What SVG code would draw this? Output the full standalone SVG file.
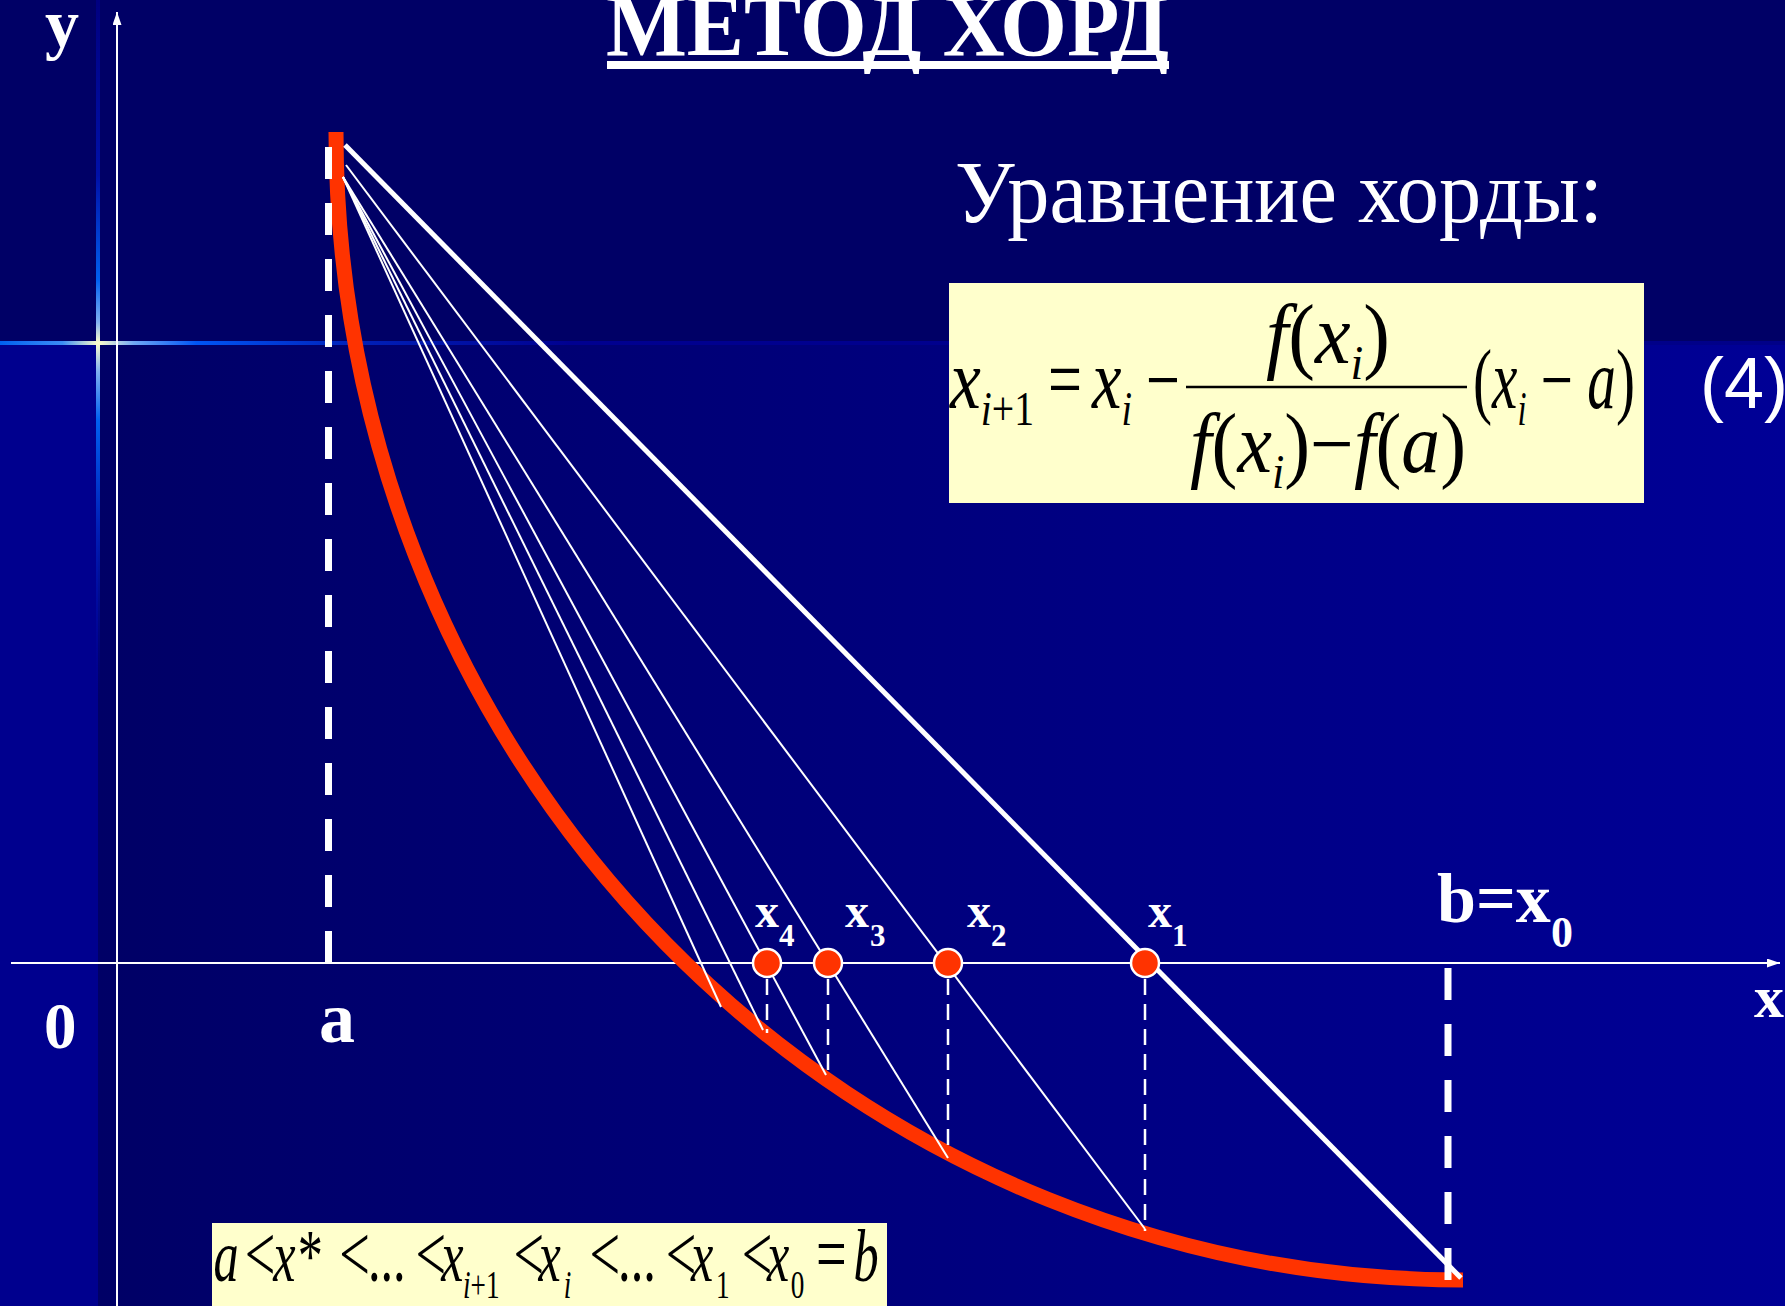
<svg xmlns="http://www.w3.org/2000/svg" width="1785" height="1306" viewBox="0 0 1785 1306">
<style>
.lbl{font-family:"Liberation Serif","Times New Roman",serif;font-weight:bold;fill:#fff}
.mth{font-family:"Liberation Serif","Times New Roman",serif;fill:#000}
.it{font-style:italic}
.rel{font-size:80px}
.chord{stroke:#fff;stroke-width:2;fill:none}
.chord0{stroke:#fff;stroke-width:5;fill:none}
.vdash{stroke:#fff;stroke-width:7;stroke-dasharray:32 24;fill:none}
.tdash{stroke:#fff;stroke-width:2.5;stroke-dasharray:16 9;fill:none}
.dot{fill:#FF3300;stroke:#fff;stroke-width:2.5}
.axis{stroke:#fff;stroke-width:2;fill:none}
</style>
<defs>
<linearGradient id="lowerBg" gradientUnits="userSpaceOnUse" x1="98" y1="0" x2="1785" y2="0">
<stop offset="0" stop-color="#000066"/>
<stop offset="1" stop-color="#000096"/>
</linearGradient>
<linearGradient id="hGlow" gradientUnits="userSpaceOnUse" x1="0" y1="0" x2="1785" y2="0">
<stop offset="0" stop-color="#0060F0"/>
<stop offset="0.035" stop-color="#3C8CF5"/>
<stop offset="0.055" stop-color="#FFFFCC"/>
<stop offset="0.075" stop-color="#70A8F5"/>
<stop offset="0.11" stop-color="#0055F5"/>
<stop offset="0.2" stop-color="#0020B8"/>
<stop offset="0.32" stop-color="#000090"/>
<stop offset="1" stop-color="#000088"/>
</linearGradient>
<linearGradient id="vGlow" gradientUnits="userSpaceOnUse" x1="0" y1="0" x2="0" y2="700">
<stop offset="0" stop-color="#000080"/>
<stop offset="0.25" stop-color="#0010A8"/>
<stop offset="0.4" stop-color="#0060F0"/>
<stop offset="0.46" stop-color="#80B0F0"/>
<stop offset="0.49" stop-color="#FFFFCC"/>
<stop offset="0.53" stop-color="#80B0F0"/>
<stop offset="0.6" stop-color="#0060F0"/>
<stop offset="0.75" stop-color="#0020B8"/>
<stop offset="1" stop-color="#000099" stop-opacity="0"/>
</linearGradient>
<marker id="arrow" markerUnits="userSpaceOnUse" viewBox="0 0 13 9" markerWidth="13" markerHeight="9" refX="13" refY="4.5" orient="auto">
<path d="M0,0 L13,4.5 L0,9 z" fill="#fff"/>
</marker>
</defs>

<g id="background">
<rect x="0" y="0" width="1785" height="1306" fill="#000066"/>
<rect x="98" y="341" width="1687" height="965" fill="url(#lowerBg)"/>
<rect x="0" y="343" width="98" height="963" fill="#00008E"/>
<rect x="0" y="341" width="1785" height="4" fill="url(#hGlow)"/>
<rect x="96" y="0" width="4" height="700" fill="url(#vGlow)"/>
</g>

<g id="title">
<text class="lbl" x="606" y="55" font-size="88" textLength="563" lengthAdjust="spacingAndGlyphs">МЕТОД ХОРД</text>
<rect x="607" y="61" width="562" height="8" fill="#fff"/>
</g>

<g id="chord-equation-caption">
<text x="955" y="222" font-family="Liberation Serif, Times New Roman, serif" font-size="88" fill="#fff" textLength="648" lengthAdjust="spacingAndGlyphs">Уравнение хорды:</text>
</g>

<g id="formula">
<rect x="949" y="283" width="695" height="220" fill="#FFFFCC"/>
<text class="mth" x="950" y="408" font-size="84" textLength="84" lengthAdjust="spacingAndGlyphs"><tspan class="it">x</tspan><tspan class="it" font-size="48" dy="17">i</tspan><tspan font-size="48">+1</tspan></text>
<text class="mth" x="1048" y="408" font-size="84" textLength="34" lengthAdjust="spacingAndGlyphs">=</text>
<text class="mth" x="1092" y="408" font-size="84" textLength="40" lengthAdjust="spacingAndGlyphs"><tspan class="it">x</tspan><tspan class="it" font-size="48" dy="17">i</tspan></text>
<text class="mth" x="1146" y="408" font-size="84" textLength="34" lengthAdjust="spacingAndGlyphs">−</text>
<line x1="1186" y1="387" x2="1467" y2="387" stroke="#000" stroke-width="2.5"/>
<text class="mth" x="1266" y="363" font-size="84" textLength="124" lengthAdjust="spacingAndGlyphs"><tspan class="it">f</tspan>(<tspan class="it">x</tspan><tspan class="it" font-size="48" dy="16">i</tspan><tspan dy="-16">)</tspan></text>
<text class="mth" x="1190" y="472" font-size="84" textLength="276" lengthAdjust="spacingAndGlyphs"><tspan class="it">f</tspan>(<tspan class="it">x</tspan><tspan class="it" font-size="48" dy="16">i</tspan><tspan dy="-16">)−</tspan><tspan class="it">f</tspan>(<tspan class="it">a</tspan>)</text>
<text class="mth" x="1473" y="408" font-size="84" textLength="162" lengthAdjust="spacingAndGlyphs">(<tspan class="it">x</tspan><tspan class="it" font-size="48" dy="17">i</tspan><tspan dy="-17"> − </tspan><tspan class="it">a</tspan>)</text>
</g>

<g id="equation-number">
<text x="1700" y="408" font-family="Liberation Sans, Arial, sans-serif" font-size="72" fill="#fff">(4)</text>
</g>

<g id="axes">
<line class="axis" x1="117" y1="1306" x2="117" y2="12" marker-end="url(#arrow)"/>
<line class="axis" x1="11" y1="963" x2="1780" y2="963" marker-end="url(#arrow)"/>
<text class="lbl" x="45" y="47" font-size="68">y</text>
<text class="lbl" x="1754" y="1017" font-size="60">x</text>
<text class="lbl" x="44" y="1048" font-size="65">0</text>
</g>

<g id="curve">
<path d="M336,132 A1127,1148 0 0 0 1463,1280" fill="none" stroke="#FF3300" stroke-width="15"/>
</g>

<g id="connectors">
<line class="chord0" x1="345" y1="145" x2="1461" y2="1278"/>
<line class="chord" x1="346" y1="165" x2="1145" y2="1229"/>
<line class="chord" x1="343" y1="177" x2="948" y2="1158"/>
<line class="chord" x1="343" y1="177" x2="826" y2="1075"/>
<line class="chord" x1="343" y1="177" x2="763" y2="1030"/>
<line class="chord" x1="343" y1="177" x2="721" y2="1007"/>
<line class="vdash" x1="328.5" y1="147" x2="328.5" y2="963"/>
<line class="vdash" x1="1448" y1="968" x2="1448" y2="1280"/>
<line class="tdash" x1="767" y1="979" x2="767" y2="1033"/>
<line class="tdash" x1="828" y1="979" x2="828" y2="1076"/>
<line class="tdash" x1="948" y1="979" x2="948" y2="1153"/>
<line class="tdash" x1="1145" y1="979" x2="1145" y2="1231"/>
</g>

<g id="point-a">
<text class="lbl" x="319" y="1042" font-size="72">a</text>
</g>
<g id="point-b">
<text class="lbl" x="1437" y="922" font-size="70">b=x</text>
<text class="lbl" x="1551" y="947" font-size="44">0</text>
</g>
<g id="point-x1">
<circle class="dot" cx="1145" cy="963" r="14"/>
<text class="lbl" x="1148" y="927" font-size="48">x</text>
<text class="lbl" x="1172" y="946" font-size="31">1</text>
</g>
<g id="point-x2">
<circle class="dot" cx="948" cy="963" r="14"/>
<text class="lbl" x="967" y="927" font-size="48">x</text>
<text class="lbl" x="991" y="946" font-size="31">2</text>
</g>
<g id="point-x3">
<circle class="dot" cx="828" cy="963" r="14"/>
<text class="lbl" x="845" y="927" font-size="48">x</text>
<text class="lbl" x="870" y="946" font-size="31">3</text>
</g>
<g id="point-x4">
<circle class="dot" cx="767" cy="963" r="14"/>
<text class="lbl" x="755" y="927" font-size="48">x</text>
<text class="lbl" x="779" y="946" font-size="31">4</text>
</g>

<g id="inequality">
<rect x="212" y="1223" width="675" height="83" fill="#FFFFCC"/>
<g transform="scale(0.68,1)" font-family="Liberation Serif, Times New Roman, serif" font-size="74" fill="#000">
<text y="1281"><tspan x="314" font-style="italic">a</tspan><tspan class="rel" x="360">&lt;</tspan><tspan x="402" font-style="italic">x</tspan><tspan x="438">*</tspan><tspan class="rel" x="499">&lt;</tspan><tspan x="541">...</tspan><tspan class="rel" x="611">&lt;</tspan><tspan x="649" font-style="italic">x</tspan><tspan x="681" y="1298" font-size="40" font-style="italic">i</tspan><tspan y="1298" font-size="40">+1</tspan><tspan class="rel" x="755" y="1281">&lt;</tspan><tspan x="792" font-style="italic">x</tspan><tspan x="829" y="1298" font-size="40" font-style="italic">i</tspan><tspan class="rel" x="867" y="1281">&lt;</tspan><tspan x="909">...</tspan><tspan class="rel" x="979">&lt;</tspan><tspan x="1016" font-style="italic">x</tspan><tspan x="1053" y="1298" font-size="40">1</tspan><tspan class="rel" x="1091" y="1281">&lt;</tspan><tspan x="1128" font-style="italic">x</tspan><tspan x="1163" y="1298" font-size="40">0</tspan><tspan class="rel" x="1200" y="1281">=</tspan><tspan x="1255" font-style="italic">b</tspan></text>
</g>
</g>
</svg>
